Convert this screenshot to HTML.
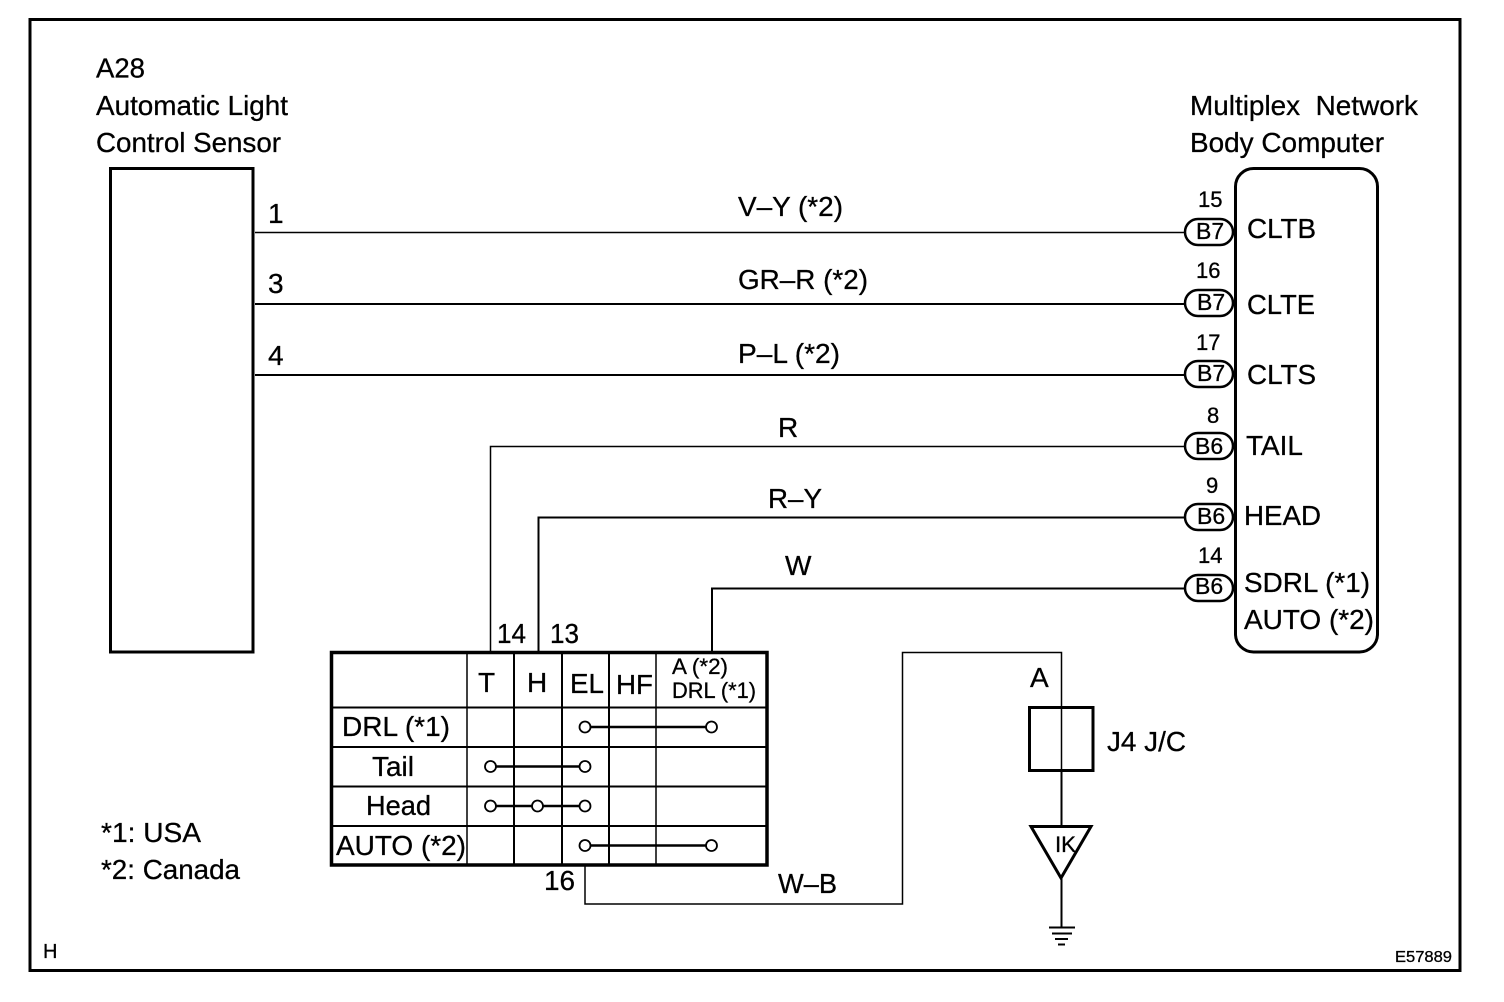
<!DOCTYPE html>
<html><head><meta charset="utf-8"><style>
html,body{margin:0;padding:0;background:#fff}
svg{display:block}
text{font-family:"Liberation Sans",sans-serif;fill:#000;font-size:28px;stroke:#000;stroke-width:.3px}
</style></head><body>
<svg width="1504" height="1002" viewBox="0 0 1504 1002" xmlns="http://www.w3.org/2000/svg">
<g fill="none" stroke="#000">
<rect x="30" y="19.500" width="1430" height="951" stroke-width="3"/>
<rect x="110.500" y="168.500" width="142.500" height="483.500" stroke-width="3"/>
<rect x="1235.500" y="168.500" width="142" height="483.500" rx="18" stroke-width="3"/>
<path d="M255 232.500H1185" stroke-width="1.500"/>
<path d="M255 304H1185" stroke-width="2"/>
<path d="M255 375H1185" stroke-width="2"/>
<path d="M1185 446.500H490.500V651" stroke-width="1.500"/>
<path d="M1185 517.500H538.500V651" stroke-width="2"/>
<path d="M1185 588.500H712V651" stroke-width="2"/>
<path d="M585 866V904H902.500V652.500H1061.500V825" stroke-width="1.500"/>
<path d="M1061.500 770V825" stroke-width="2"/>
<rect x="1029.500" y="707.500" width="63.500" height="63" stroke-width="3"/>
<path d="M1031 826.500H1091L1061 878Z" stroke-width="3"/>
<path d="M1061.500 878V928" stroke-width="2"/>
<path d="M1049 927.500H1075M1052 933.500H1072M1055 939H1068M1058 944.500H1065" stroke-width="2"/>
<rect x="331.500" y="652.500" width="435.500" height="212.500" stroke-width="3.500"/>
<path d="M467 652V865" stroke-width="1.500"/>
<path d="M514 652V865M562 652V865M609 652V865" stroke-width="2"/>
<path d="M656 652V865" stroke-width="1.500"/>
<path d="M331 707.500H767M331 747H767M331 786.500H767M331 826H767" stroke-width="2"/>
<path d="M585 727H711M490 766.500H585M490 806H585M585 845.500H711" stroke-width="2.500"/>
<g fill="#fff" stroke-width="1.800">
<circle cx="585" cy="727" r="5.500"/><circle cx="711.500" cy="727" r="5.500"/>
<circle cx="490.500" cy="766.500" r="5.500"/><circle cx="585" cy="766.500" r="5.500"/>
<circle cx="490.500" cy="806" r="5.500"/><circle cx="537.500" cy="806" r="5.500"/><circle cx="585" cy="806" r="5.500"/>
<circle cx="585" cy="845.500" r="5.500"/><circle cx="711.500" cy="845.500" r="5.500"/>
</g>
<g fill="#fff" stroke-width="2.500">
<rect x="1185" y="219" width="48" height="26" rx="13"/>
<rect x="1185" y="290" width="48" height="26" rx="13"/>
<rect x="1185" y="361" width="48" height="26" rx="13"/>
<rect x="1185" y="433" width="48" height="26" rx="13"/>
<rect x="1185" y="504" width="48" height="26" rx="13"/>
<rect x="1185" y="575" width="48" height="26" rx="13"/>
</g>
</g>
<text x="96" y="77.500" textLength="49" lengthAdjust="spacingAndGlyphs">A28</text>
<text x="96" y="115" textLength="192" lengthAdjust="spacingAndGlyphs">Automatic Light</text>
<text x="96" y="152" textLength="185" lengthAdjust="spacingAndGlyphs">Control Sensor</text>
<text x="1190" y="115" textLength="228" lengthAdjust="spacingAndGlyphs" xml:space="preserve">Multiplex  Network</text>
<text x="1190" y="152" textLength="194" lengthAdjust="spacingAndGlyphs">Body Computer</text>
<text x="268" y="223">1</text><text x="268" y="293">3</text><text x="268" y="365">4</text>
<text x="738" y="216" textLength="105" lengthAdjust="spacingAndGlyphs">V–Y (*2)</text>
<text x="738" y="289" textLength="130" lengthAdjust="spacingAndGlyphs">GR–R (*2)</text>
<text x="738" y="363" textLength="102" lengthAdjust="spacingAndGlyphs">P–L (*2)</text>
<text x="778" y="437">R</text>
<text x="768" y="508" textLength="54" lengthAdjust="spacingAndGlyphs">R–Y</text>
<text x="785" y="575">W</text>
<g>
<text x="1198" y="207" style="font-size:22px">15</text>
<text x="1196" y="278" style="font-size:22px">16</text>
<text x="1196" y="350" style="font-size:22px">17</text>
<text x="1207" y="423" style="font-size:22px">8</text>
<text x="1206" y="493" style="font-size:22px">9</text>
<text x="1198" y="563" style="font-size:22px">14</text>
<text x="1196" y="239" style="font-size:23px">B7</text>
<text x="1197" y="310" style="font-size:23px">B7</text>
<text x="1197" y="381" style="font-size:23px">B7</text>
<text x="1195" y="454" style="font-size:23px">B6</text>
<text x="1197" y="524" style="font-size:23px">B6</text>
<text x="1195" y="594" style="font-size:23px">B6</text>
</g>
<text x="1247" y="238" textLength="69" lengthAdjust="spacingAndGlyphs">CLTB</text>
<text x="1247" y="314" textLength="68" lengthAdjust="spacingAndGlyphs">CLTE</text>
<text x="1247" y="384" textLength="69" lengthAdjust="spacingAndGlyphs">CLTS</text>
<text x="1246" y="455" textLength="57" lengthAdjust="spacingAndGlyphs">TAIL</text>
<text x="1244" y="525" textLength="77" lengthAdjust="spacingAndGlyphs">HEAD</text>
<text x="1244" y="592" textLength="126" lengthAdjust="spacingAndGlyphs">SDRL (*1)</text>
<text x="1244" y="629" textLength="130" lengthAdjust="spacingAndGlyphs">AUTO (*2)</text>
<text x="497" y="643" textLength="29" lengthAdjust="spacingAndGlyphs">14</text>
<text x="550" y="643" textLength="29" lengthAdjust="spacingAndGlyphs">13</text>
<text x="544" y="890" textLength="31" lengthAdjust="spacingAndGlyphs">16</text>
<text x="478" y="692">T</text><text x="527" y="692">H</text>
<text x="570" y="693" textLength="34" lengthAdjust="spacingAndGlyphs">EL</text>
<text x="616" y="694" textLength="37" lengthAdjust="spacingAndGlyphs">HF</text>
<text x="672" y="674" style="font-size:22px" textLength="56" lengthAdjust="spacingAndGlyphs">A (*2)</text>
<text x="672" y="698" style="font-size:22px" textLength="84" lengthAdjust="spacingAndGlyphs">DRL (*1)</text>
<text x="342" y="736" textLength="108" lengthAdjust="spacingAndGlyphs">DRL (*1)</text>
<text x="372" y="776" textLength="42" lengthAdjust="spacingAndGlyphs">Tail</text>
<text x="366" y="815" textLength="65" lengthAdjust="spacingAndGlyphs">Head</text>
<text x="336" y="855" textLength="130" lengthAdjust="spacingAndGlyphs">AUTO (*2)</text>
<text x="101" y="842" textLength="100" lengthAdjust="spacingAndGlyphs">*1: USA</text>
<text x="101" y="879" textLength="139" lengthAdjust="spacingAndGlyphs">*2: Canada</text>
<text x="778" y="893" textLength="59" lengthAdjust="spacingAndGlyphs">W–B</text>
<text x="1030" y="687">A</text>
<text x="1107" y="751" textLength="79" lengthAdjust="spacingAndGlyphs">J4 J/C</text>
<text x="1055" y="852" style="font-size:22px" textLength="21" lengthAdjust="spacingAndGlyphs">IK</text>
<text x="43" y="958" style="font-size:20px">H</text>
<text x="1395" y="962" style="font-size:16px" textLength="57" lengthAdjust="spacingAndGlyphs">E57889</text>
</svg>
</body></html>
